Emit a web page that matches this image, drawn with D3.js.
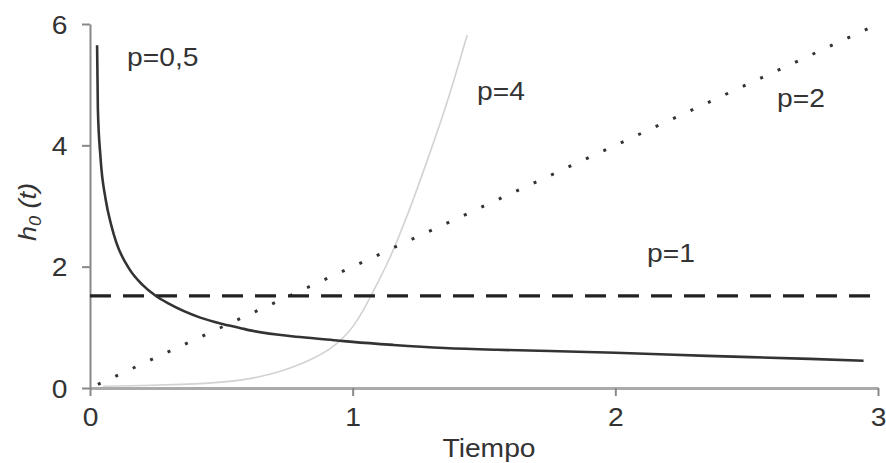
<!DOCTYPE html>
<html><head><meta charset="utf-8">
<script src="https://cdn.jsdelivr.net/npm/d3@7"></script>
<style>
html,body{margin:0;padding:0;background:#fff;}
svg{display:block;}
text{font-family:"Liberation Sans",Arial,Helvetica,sans-serif;fill:#333;}
</style></head><body>
<svg id="chart" width="886" height="463"></svg>
<script>
// ---- data ----
const xTicks = [0, 1, 2, 3];
const yTicks = [0, 2, 4, 6];
const seriesLabels = ["p=0,5", "p=1", "p=2", "p=4"];

const tP05 = [0.027, 0.03, 0.04, 0.06, 0.08, 0.1, 0.15, 0.2, 0.25, 0.3, 0.42, 0.5, 0.571, 0.61, 0.8, 0.95, 1.0, 1.155, 1.35, 1.55, 1.75, 2.0, 2.35, 2.74, 2.945];
const hP05 = [5.65, 4.6, 3.8, 3.1, 2.7, 2.4, 1.96, 1.7, 1.52, 1.39, 1.16, 1.06, 0.99, 0.95, 0.84, 0.78, 0.76, 0.71, 0.66, 0.63, 0.61, 0.58, 0.53, 0.48, 0.45];

const tP1 = [0, 3];
const hP1 = [1.52, 1.52];

const tP2 = [0.03, 3];
const hP2 = [0.06, 6];

const tP4 = [0.05, 0.2, 0.35, 0.45, 0.571, 0.648, 0.762, 0.85, 0.914, 0.952, 1.002, 1.04, 1.067, 1.105, 1.143, 1.2, 1.3, 1.36, 1.436];
const hP4 = [0.03, 0.04, 0.06, 0.08, 0.13, 0.19, 0.33, 0.49, 0.65, 0.78, 1.02, 1.28, 1.5, 1.82, 2.16, 2.76, 3.95, 4.72, 5.82];

// ---- layout ----
const svg = d3.select("#chart");
const x = d3.scaleLinear().domain([0, 3]).range([90, 878]);
const y = d3.scaleLinear().domain([0, 6]).range([388, 24]);
const SX = 1.13; // horizontal stretch of the reference font

// axes
const xAxis = svg.append("g").attr("transform", "translate(0,388)")
  .call(d3.axisBottom(x).tickValues(xTicks).tickFormat(d3.format("d")).tickSize(8).tickSizeOuter(0).tickPadding(12));
xAxis.select(".domain").attr("stroke", "#aaa").attr("stroke-width", 3);
xAxis.selectAll(".tick line").attr("stroke", "#888").attr("stroke-width", 2);
xAxis.selectAll(".tick text").attr("font-size", 25).attr("fill", "#3a3a3a")
  .attr("font-family", "Liberation Sans, Arial, sans-serif")
  .attr("transform", `scale(${SX},1)`);

const yAxis = svg.append("g").attr("transform", "translate(90,0)")
  .call(d3.axisLeft(y).tickValues(yTicks).tickFormat(d3.format("d")).tickSize(8).tickSizeOuter(0).tickPadding(12));
yAxis.select(".domain").attr("stroke", "#888").attr("stroke-width", 2);
yAxis.selectAll(".tick line").attr("stroke", "#888").attr("stroke-width", 2);
yAxis.selectAll(".tick text").attr("font-size", 25).attr("fill", "#3a3a3a")
  .attr("font-family", "Liberation Sans, Arial, sans-serif")
  .attr("dy", "0.36em")
  .attr("transform", `scale(${SX},1)`);

// lines
const line = d3.line().x(d => x(d[0])).y(d => y(d[1])).curve(d3.curveMonotoneX);
const straight = d3.line().x(d => x(d[0])).y(d => y(d[1]));
const pts = (ts, hs) => ts.map((t, i) => [t, hs[i]]);

svg.append("path").datum(pts(tP4, hP4)).attr("d", line)
  .attr("fill", "none").attr("stroke", "#d2d2d2").attr("stroke-width", 1.6);

svg.append("path").datum(pts(tP2, hP2)).attr("d", straight)
  .attr("fill", "none").attr("stroke", "#333").attr("stroke-width", 3)
  .attr("stroke-dasharray", "3,16.2");

svg.append("path").datum(pts(tP1, hP1)).attr("d", straight)
  .attr("fill", "none").attr("stroke", "#222").attr("stroke-width", 3.2)
  .attr("stroke-dasharray", "21,12");

svg.append("path").datum(pts(tP05, hP05)).attr("d", line)
  .attr("fill", "none").attr("stroke", "#333").attr("stroke-width", 2.6);

// series labels
const labelPos = [[127, 66], [647, 262], [777, 107], [477, 100]];
seriesLabels.forEach((s, i) => {
  svg.append("text").text(s)
    .attr("font-size", 25).attr("fill", "#3a3a3a")
    .attr("transform", `translate(${labelPos[i][0]},${labelPos[i][1]}) scale(${SX},1)`);
});

// axis titles
svg.append("text").text("Tiempo").attr("font-size", 25).attr("text-anchor", "middle")
  .attr("fill", "#3a3a3a")
  .attr("transform", `translate(489,457) scale(${SX},1)`);

const yl = svg.append("text").attr("font-size", 24).attr("text-anchor", "middle")
  .attr("font-style", "italic").attr("fill", "#3a3a3a")
  .attr("transform", `translate(36,212) rotate(-90) scale(${SX},1)`);
yl.append("tspan").text("h");
yl.append("tspan").text("0").attr("font-size", 16).attr("dy", 5);
yl.append("tspan").text(" (t)").attr("dy", -5);
</script>
</body></html>
